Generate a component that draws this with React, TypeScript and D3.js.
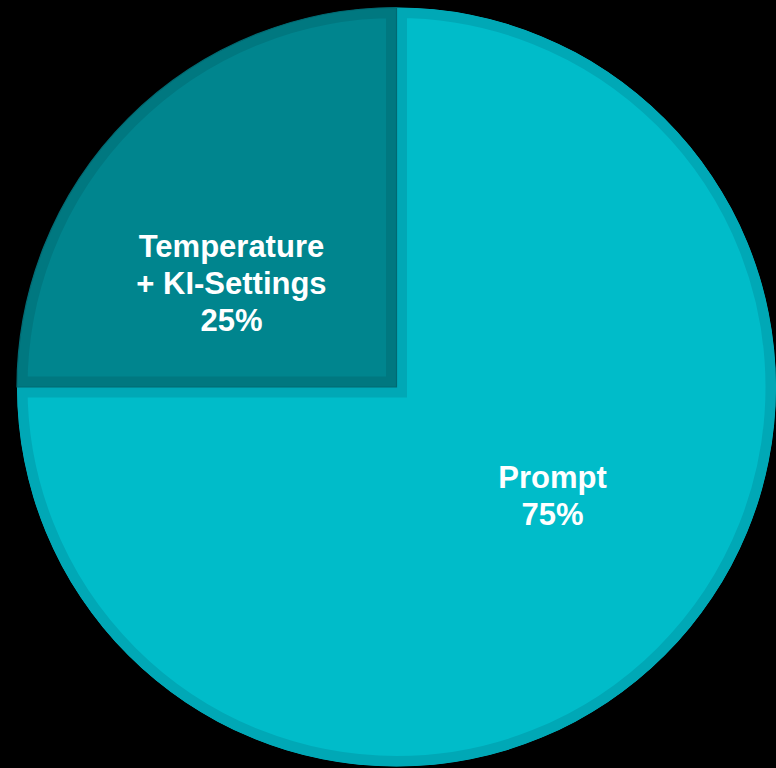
import React from "react";
import * as d3 from "d3";

const categories = ["Prompt", "Temperature\n+ KI-Settings"];
const values = [75, 25];
const fillColors = ["#00BCC9", "#00858E"];
const borderColors = ["#00A8B6", "#007880"];
const labelAngleShift = [-10.3, -12.8]; // degrees, label direction tweak from bisector
const labelRadiusFactor = [0.5, 0.514];

const W = 776;
const H = 768;

export default function App() {
  const cx = 396.5;
  const cy = 387;
  const r = 379.5;
  const pie = d3.pie<number>().sort(null).startAngle(0).endAngle(2 * Math.PI);
  const arcs = pie(values);
  const arcGen = d3.arc<d3.PieArcDatum<number>>().innerRadius(0).outerRadius(r);

  return (
    <svg
      width={W}
      height={H}
      style={{ position: "absolute", left: 0, top: 0, background: "#000" }}
    >
      <rect width={W} height={H} fill="#000" />
      <defs>
        {arcs.map((a, i) => (
          <clipPath id={`clip${i}`} key={i}>
            <path d={arcGen(a) || ""} />
          </clipPath>
        ))}
      </defs>
      <g transform={`translate(${cx},${cy})`}>
        {arcs.map((a, i) => (
          <g key={i}>
            <path
              d={arcGen(a) || ""}
              fill={fillColors[i]}
              stroke={borderColors[i]}
              strokeWidth={21}
              clipPath={`url(#clip${i})`}
            />
          </g>
        ))}
        <path
          d={arcGen(arcs[1]) || ""}
          fill="none"
          stroke="#006A72"
          strokeWidth={1.2}
        />
        {arcs.map((a, i) => {
          const mid = (a.startAngle + a.endAngle) / 2 + (labelAngleShift[i] * Math.PI) / 180;
          const lr = r * labelRadiusFactor[i];
          const x = Math.sin(mid) * lr;
          const y = -Math.cos(mid) * lr;
          const lines = [...categories[i].split("\n"), `${values[i]}%`];
          const lh = 37;
          const y0 = y - ((lines.length - 1) * lh) / 2;
          return (
            <text
              key={i}
              x={x}
              textAnchor="middle"
              fill="#fff"
              style={{ fontFamily: "'Liberation Sans', Arial, sans-serif", fontWeight: 700, fontSize: "31px" }}
            >
              {lines.map((l, j) => (
                <tspan key={j} x={x} y={y0 + j * lh} dy="0.355em">
                  {l}
                </tspan>
              ))}
            </text>
          );
        })}
      </g>
    </svg>
  );
}
